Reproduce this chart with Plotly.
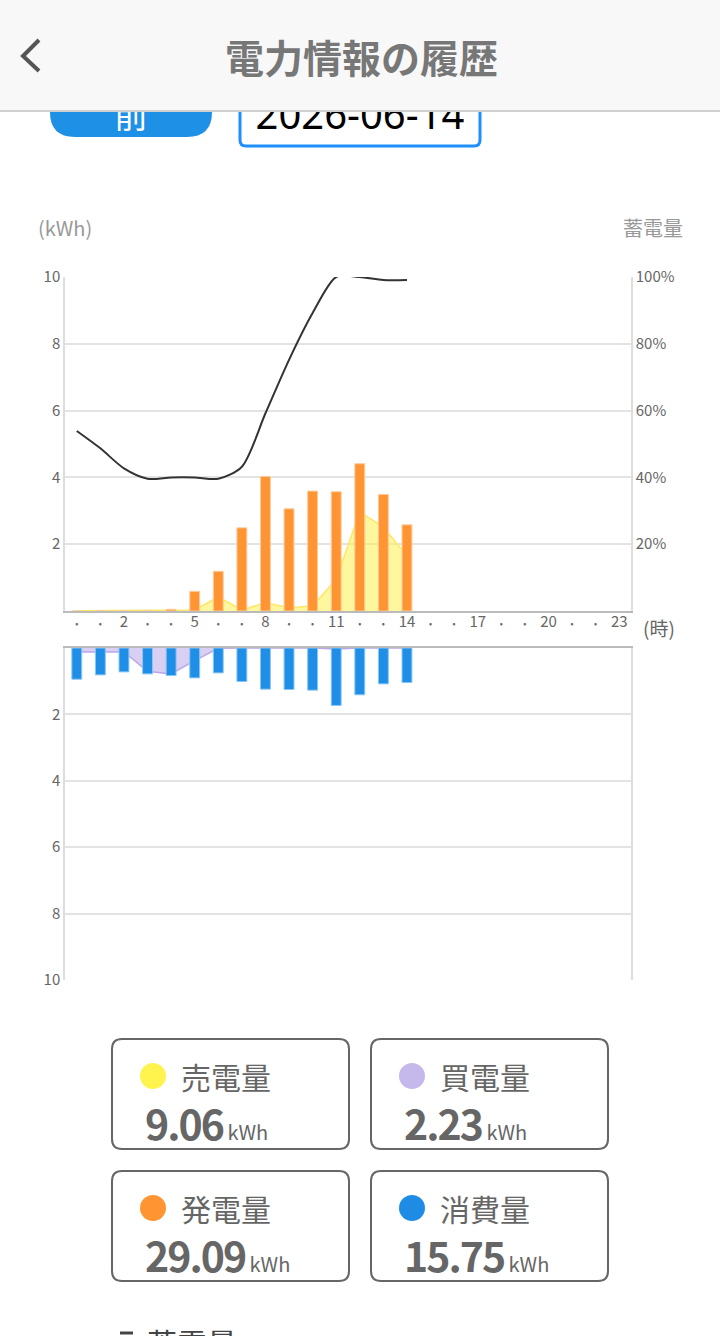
import plotly.graph_objects as go

# hourly data (0-14 h recorded so far)
hours = list(range(15))
sell_kwh = [0.01, 0.01, 0.01, 0.01, 0.01, 0.03, 0.42, 0.03, 0.25, 0.10, 0.15, 0.95, 2.97, 2.51, 1.65]
gen_kwh = [0, 0, 0, 0, 0.05, 0.59, 1.19, 2.49, 4.03, 3.06, 3.59, 3.57, 4.41, 3.49, 2.58]
buy_kwh = [0.12, 0.12, 0.12, 0.70, 0.78, 0.38, 0.01, 0, 0, 0, 0, 0.03, 0, 0, 0]
use_kwh = [0.94, 0.81, 0.72, 0.78, 0.83, 0.90, 0.75, 1.01, 1.24, 1.25, 1.27, 1.73, 1.41, 1.08, 1.04]
battery_pct = [53.9, 48.7, 42.7, 39.6, 40.0, 40.0, 39.6, 43.2, 59.2, 75.2, 89.2, 100, 100, 99.1, 99.1]

# axis ticks
all_hours = list(range(24))
hour_labels = [str(h) if h % 3 == 2 else "<span style='font-size:9px'>•</span>" for h in all_hours]
kwh_ticks = [2, 4, 6, 8, 10]
pct_ticks = [20, 40, 60, 80, 100]
pct_labels = [f"{p}%" for p in pct_ticks]

# summary cards
card_names = ["売電量", "買電量", "発電量", "消費量"]
card_totals = ["9.06", "2.23", "29.09", "15.75"]
card_colors = ["#FFF34D", "#C5B9EB", "#FF9433", "#1E8CE4"]

W, H = 720, 1336
FONT = "Noto Sans CJK JP"
GRID = "#e3e3e3"
TICK = "#666666"


def rounded_rect(x0, y0, x1, y1, r):
    return (f"M {x0+r},{y0} L {x1-r},{y0} Q {x1},{y0} {x1},{y0+r} L {x1},{y1-r} "
            f"Q {x1},{y1} {x1-r},{y1} L {x0+r},{y1} Q {x0},{y1} {x0},{y1-r} "
            f"L {x0},{y0+r} Q {x0},{y0} {x0+r},{y0} Z")


fig = go.Figure()

# upper chart: sell area, generation bars, battery line
fig.add_trace(go.Scatter(x=hours, y=sell_kwh, mode="lines", fill="tozeroy",
                         line=dict(color="#FFE766", width=1.5),
                         fillcolor="rgba(255,240,60,0.5)", xaxis="x", yaxis="y",
                         hoverinfo="skip"))
fig.add_trace(go.Bar(x=hours, y=gen_kwh, width=0.42, xaxis="x", yaxis="y2",
                     marker=dict(color="#FF9433", line=dict(color="#FFCB9E", width=1))))
fig.add_trace(go.Scatter(x=hours, y=battery_pct, mode="lines", xaxis="x", yaxis="y3",
                         line=dict(color="#333333", width=2, shape="spline", smoothing=0.8)))

# lower chart: buy area, consumption bars
fig.add_trace(go.Scatter(x=hours, y=buy_kwh, mode="lines", fill="tozeroy",
                         line=dict(color="#BBA6E8", width=1.5),
                         fillcolor="rgba(180,160,230,0.5)", xaxis="x2", yaxis="y4",
                         hoverinfo="skip"))
fig.add_trace(go.Bar(x=hours, y=use_kwh, width=0.42, xaxis="x2", yaxis="y5",
                     marker=dict(color="#1E8EE6", line=dict(color="#8CC6F4", width=1))))

# page decorations drawn on a full-page pixel axis
fig.add_trace(go.Scatter(x=[131], y=[119], mode="text", text=["前"],
                         textfont=dict(size=34, color="white", family=FONT),
                         xaxis="x3", yaxis="y6", hoverinfo="skip"))
fig.add_trace(go.Scatter(x=[360], y=[119], mode="text", text=["2026-06-14"],
                         textfont=dict(size=40, color="black", family="Noto Sans"),
                         xaxis="x3", yaxis="y6", hoverinfo="skip"))

xdom = [65 / W, 631 / W]
up_dom = [1 - 611 / H, 1 - 277 / H]
low_dom = [1 - 980 / H, 1 - 648 / H]

shapes = [
    dict(type="path", path=rounded_rect(50, 87, 212, 137, 25), xref="x3", yref="y6",
         fillcolor="#1E90E6", line=dict(width=0), layer="below"),
    dict(type="path", path=rounded_rect(240, 80, 480, 146, 6), xref="x3", yref="y6",
         fillcolor="white", line=dict(color="#1E8FFF", width=3), layer="below"),
    dict(type="rect", x0=0, x1=W, y0=0, y1=110, xref="x3", yref="y6",
         fillcolor="#F8F8F8", line=dict(width=0), layer="above"),
    dict(type="line", x0=0, x1=W, y0=111, y1=111, xref="x3", yref="y6",
         line=dict(color="#D0D0D0", width=2), layer="above"),
    dict(type="path", path="M 39,40 L 23,56 L 39,71", xref="x3", yref="y6",
         line=dict(color="#555555", width=4), layer="above"),
    dict(type="line", x0=120, x1=133, y0=1333, y1=1333, xref="x3", yref="y6",
         line=dict(color="#444444", width=3)),
]

annotations = [
    dict(x=361, y=56, xref="x3", yref="y6", text="<b>電力情報の履歴</b>", showarrow=False,
         font=dict(size=39, color="#777777", family=FONT)),
    dict(x=36, y=227, xref="x3", yref="y6", text="(kWh)", showarrow=False, xanchor="left",
         font=dict(size=20, color="#999999", family=FONT)),
    dict(x=685, y=227, xref="x3", yref="y6", text="蓄電量", showarrow=False, xanchor="right",
         font=dict(size=20, color="#999999", family=FONT)),
    dict(x=641, y=627, xref="x3", yref="y6", text="(時)", showarrow=False, xanchor="left",
         font=dict(size=19, color="#666666", family=FONT)),
    dict(x=145, y=1318, xref="x3", yref="y6", text="蓄電量", showarrow=False, xanchor="left",
         yanchor="top", font=dict(size=30, color="#444444", family=FONT)),
]

card_x = [112, 371]
card_y = [1039, 1171]
for i, (name, total, col) in enumerate(zip(card_names, card_totals, card_colors)):
    cx = card_x[i % 2]
    cy = card_y[i // 2]
    shapes.append(dict(type="path", path=rounded_rect(cx, cy, cx + 237, cy + 110, 10),
                       xref="x3", yref="y6", fillcolor="white",
                       line=dict(color="#666666", width=2), layer="below"))
    shapes.append(dict(type="circle", x0=cx + 28, x1=cx + 54, y0=cy + 24, y1=cy + 50,
                       xref="x3", yref="y6", fillcolor=col, line=dict(width=0)))
    annotations.append(dict(x=cx + 67, y=cy + 37, xref="x3", yref="y6", text=name,
                            showarrow=False, xanchor="left",
                            font=dict(size=30, color="#666666", family=FONT)))
    annotations.append(dict(x=cx + 31, y=cy + 83, xref="x3", yref="y6",
                            text=(f"<span style='letter-spacing:-2px'><b>{total}</b></span>"
                                  "<span style='font-size:20px'> kWh</span>"),
                            showarrow=False, xanchor="left",
                            font=dict(size=41, color="#666666", family=FONT)))

tickfont = dict(size=15, color=TICK, family=FONT)

fig.update_layout(
    template="none",
    width=W, height=H,
    margin=dict(l=0, r=0, t=0, b=0),
    paper_bgcolor="white",
    plot_bgcolor="rgba(0,0,0,0)",
    showlegend=False,
    font=dict(family=FONT),
    shapes=shapes,
    annotations=annotations,
    xaxis=dict(domain=xdom, anchor="y", range=[-0.5, 23.5], tickvals=all_hours,
               ticktext=hour_labels, tickfont=tickfont, ticks="", ticklabelstandoff=-4,
               showgrid=False, showline=True, linecolor="#BBBBBB", linewidth=2,
               zeroline=False, automargin=False, fixedrange=True),
    yaxis=dict(domain=up_dom, anchor="x", range=[0, 10], tickvals=kwh_ticks,
               tickfont=tickfont, ticks="", showgrid=True, gridcolor=GRID, gridwidth=1.5,
               showline=True, linecolor="#DDDDDD", linewidth=1.5, zeroline=False,
               automargin=False),
    yaxis2=dict(overlaying="y", range=[0, 10], visible=False),
    yaxis3=dict(overlaying="y", side="right", anchor="x", range=[0, 100],
                tickvals=pct_ticks, ticktext=pct_labels, tickfont=tickfont, ticks="",
                showgrid=False, showline=True, linecolor="#DDDDDD", linewidth=1.5,
                zeroline=False, automargin=False),
    xaxis2=dict(domain=xdom, anchor="y4", side="top", range=[-0.5, 23.5],
                showticklabels=False, ticks="", showgrid=False, showline=True,
                linecolor="#BBBBBB", linewidth=2, zeroline=False, automargin=False),
    yaxis4=dict(domain=low_dom, anchor="x2", range=[10, 0], tickvals=kwh_ticks,
                tickfont=tickfont, ticks="", showgrid=True, gridcolor=GRID, gridwidth=1.5,
                showline=True, mirror=True, linecolor="#DDDDDD", linewidth=1.5,
                zeroline=False, automargin=False),
    yaxis5=dict(overlaying="y4", range=[10, 0], visible=False),
    xaxis3=dict(domain=[0, 1], anchor="y6", range=[0, W], visible=False, fixedrange=True),
    yaxis6=dict(domain=[0, 1], anchor="x3", range=[H, 0], visible=False, fixedrange=True),
)

# drop the default page margin so the figure sits at the window's top-left corner
fig.write_html("out.html", config={"displayModeBar": False},
               post_script="document.body.style.margin='0';")
